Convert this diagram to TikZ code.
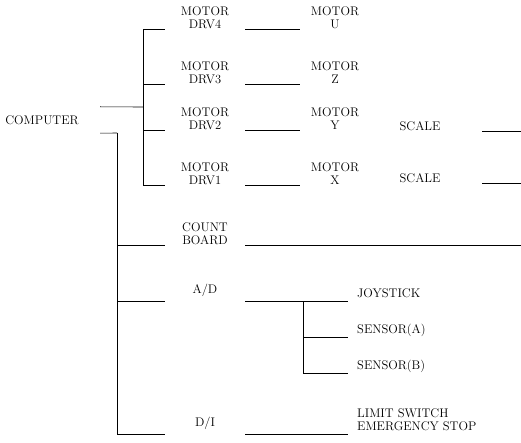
\documentclass[tikz,border=0pt]{standalone}
\usetikzlibrary{positioning}
\tikzset{
  lbl/.style={inner xsep=0pt,inner ysep=0.5pt,align=center,font=\fontsize{12.5}{12.5}\selectfont},
  blk/.style={lbl,minimum width=80pt,anchor=south},
  tip/.style={lbl,anchor=south west,inner xsep=9pt,inner ysep=3.5pt,text depth=0pt,align=left},
  wire/.style={line width=0.6pt}
}
\begin{document}
\begin{tikzpicture}[x=1pt,y=-1pt]
\useasboundingbox (0,0) rectangle (521,443);
% host and its two buses
\node[lbl,minimum width=116pt,minimum height=26pt] (cmp) at (42,120) {COMPUTER};
\coordinate (jn) at (143,107);
\coordinate (tk) at (117,133);
\draw[wire] (cmp.north east) -- (jn);
\draw[wire] (cmp.south east) -- (tk);
% drives and motors
\foreach \n/\yy/\ax in {4/29/U,3/84/Z,2/130/Y,1/185/X}{
  \node[blk] (d\n) at (205,\yy) {MOTOR\\DRV\n};
  \node[blk,minimum width=70pt] (m\n) at (335,\yy) {MOTOR\\\ax};
  \draw[wire] (jn) |- (d\n.south west);
  \draw[wire] (d\n.south east) -- (m\n.south west);
}
% scales
\foreach \n/\yy in {2/131,1/183}{
  \node[blk,minimum width=124pt] (s\n) at (420,\yy) {SCALE};
  \coordinate (e\n) at (521,\yy);
  \draw[wire] (s\n.south east) -- (e\n);
}
% boards on the second bus
\node[blk] (cnt) at (205,245) {COUNT\\BOARD};
\node[blk,inner ysep=4.5pt] (ad) at (205,301) {A/D};
\node[blk,inner ysep=4.5pt] (di) at (205,434) {D/I};
\coordinate (ec) at (521,245);
\draw[wire] (tk) |- (di.south west);
\draw[wire] (tk) |- (cnt.south west);
\draw[wire] (tk) |- (ad.south west);
\draw[wire] (cnt.south east) -- (ec);
% inputs
\coordinate (br) at (303,301);
\node[tip] (js) at (348,301) {JOYSTICK};
\node[tip] (sa) at (348,337) {SENSOR(A)};
\node[tip] (sb) at (348,373) {SENSOR(B)};
\node[tip] (lim) at (348,434) {LIMIT SWITCH\\EMERGENCY STOP};
\draw[wire] (ad.south east) -- (js.south west);
\draw[wire] (br) |- (sa.south west);
\draw[wire] (br) |- (sb.south west);
\draw[wire] (di.south east) -- (lim.south west);
\end{tikzpicture}
\end{document}
